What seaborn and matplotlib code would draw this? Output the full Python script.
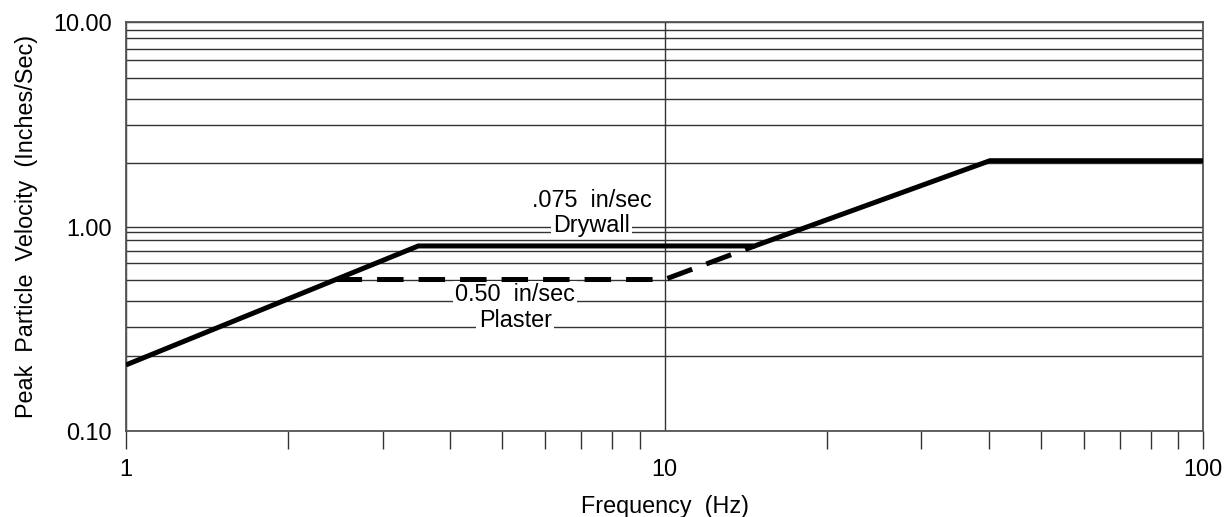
import numpy as np
import pandas as pd
import matplotlib
matplotlib.use("Agg")
import matplotlib.pyplot as plt
import seaborn as sns
from matplotlib.ticker import NullFormatter

# ---------------- data ----------------
drywall_freq = [1.0, 3.49, 14.7, 40.2, 100.0]
drywall_ppv = [0.21, 0.803, 0.803, 2.10, 2.10]

plaster_freq = [2.45, 10.0, 14.7]
plaster_ppv = [0.55, 0.55, 0.803]

x_major = [1, 10, 100]
x_major_labels = ["1", "10", "100"]
x_minor = [1, 2, 3, 4, 5, 6, 7, 8, 9, 20, 30, 40, 50, 60, 70, 80, 90, 100]

y_major = [0.1, 1.0, 10.0]
y_major_labels = ["0.10", "1.00", "10.00"]
# horizontal rules as drawn in the original sheet
y_rules = [0.232, 0.323, 0.432, 0.547, 0.660, 0.761, 0.859, 0.943,
           2.05, 3.14, 4.20, 5.35, 6.52, 7.43, 8.35, 9.20]

note_texts = [".075  in/sec", "Drywall", "0.50  in/sec", "Plaster"]
note_freq = [7.32, 7.32, 5.28, 5.28]
note_ppv = [1.25, 0.943, 0.432, 0.323]

x_title = "Frequency  (Hz)"
y_title = "Peak  Particle  Velocity  (Inches/Sec)"

# ---------------- styling ----------------
sns.set_style("white")
plt.rcParams["font.family"] = ["Liberation Sans", "DejaVu Sans"]
FS = 16.8
INK = "black"
RULE = "#333333"

fig = plt.figure(figsize=(12.28, 5.17), dpi=100)
ax = fig.add_axes([0.10261, 0.16692, 0.87704, 0.78994])
ax.set_xscale("log")
ax.set_yscale("log")

df_dry = pd.DataFrame({"freq": drywall_freq, "ppv": drywall_ppv})
df_pla = pd.DataFrame({"freq": plaster_freq, "ppv": plaster_ppv})

sns.lineplot(data=df_dry, x="freq", y="ppv", color=INK, linewidth=3.6,
             estimator=None, sort=False, ax=ax, zorder=5,
             solid_capstyle="butt", solid_joinstyle="miter")
sns.lineplot(data=df_pla, x="freq", y="ppv", color=INK, linewidth=3.6,
             linestyle=(0, (5.3, 3.0)), estimator=None, sort=False, ax=ax,
             zorder=5, dash_capstyle="butt")

ax.set_xlim(1, 100)
ax.set_ylim(0.1, 10)

ax.set_xticks(x_major, x_major_labels)
ax.set_xticks(x_minor, minor=True)
ax.xaxis.set_minor_formatter(NullFormatter())
ax.xaxis.remove_overlapping_locs = False
ax.tick_params(axis="x", which="both", bottom=True, top=False)
ax.tick_params(axis="x", which="major", length=0, pad=20, labelsize=FS,
               labelcolor=INK)
ax.tick_params(axis="x", which="minor", length=13, width=1.0, color=RULE,
               direction="out")

ax.set_yticks(y_major, y_major_labels)
ax.set_yticks(y_rules, minor=True)
ax.yaxis.set_minor_formatter(NullFormatter())
ax.tick_params(axis="y", which="both", length=0)
ax.tick_params(axis="y", which="major", pad=10, labelsize=FS, labelcolor=INK)

ax.grid(axis="y", which="both", color=RULE, linewidth=1.0)
ax.grid(axis="x", which="major", color=RULE, linewidth=1.0)
ax.set_axisbelow(True)

for s in ax.spines.values():
    s.set_color("#555555")
    s.set_linewidth(1.3)

for t, fx, fy in zip(note_texts, note_freq, note_ppv):
    ax.text(fx, fy, t, ha="center", va="baseline", fontsize=FS, color=INK,
            zorder=4,
            bbox=dict(boxstyle="square,pad=0.1", fc="white", ec="none"))

ax.set_xlabel(x_title, fontsize=FS, color=INK, labelpad=10)
ax.set_ylabel(y_title, fontsize=FS, color=INK, labelpad=11)

fig.savefig("out.png", dpi=100)
